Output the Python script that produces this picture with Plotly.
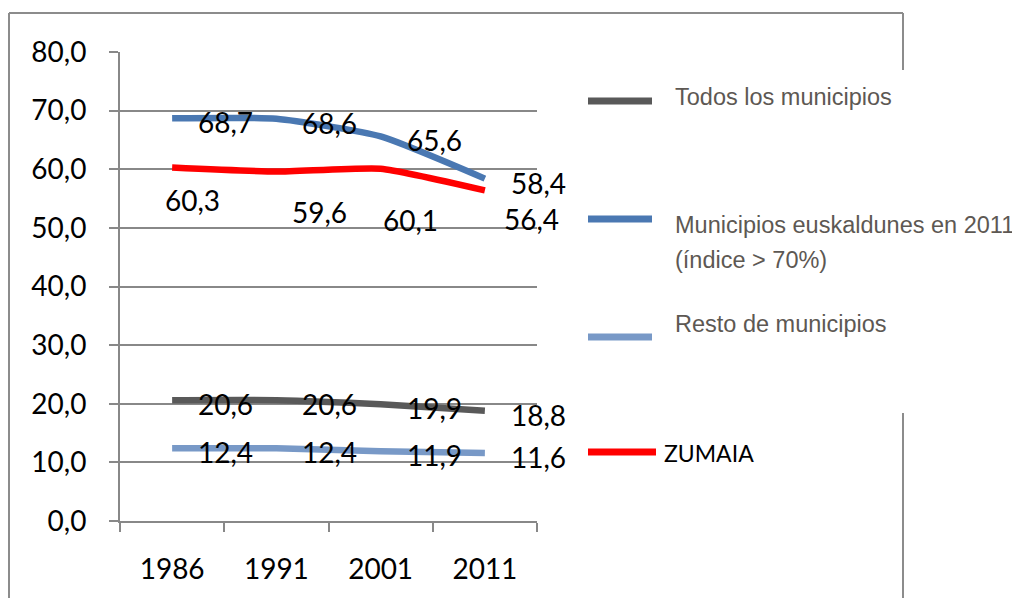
import plotly.graph_objects as go

# ---------------- data ----------------
years = ["1986", "1991", "2001", "2011"]
todos = [20.6, 20.6, 19.9, 18.8]
euskaldunes = [68.7, 68.6, 65.6, 58.4]
resto = [12.4, 12.4, 11.9, 11.6]
zumaia = [60.3, 59.6, 60.1, 56.4]
y_ticks = [0, 10, 20, 30, 40, 50, 60, 70, 80]

series_names = ["Todos los municipios", "Municipios euskaldunes en 2011", "Resto de municipios", "ZUMAIA"]

# ---------------- styles ----------------
C_GRAY = "#595959"
C_BLUE = "#4a78b2"
C_LBLUE = "#7899c7"
C_RED = "#ff0000"
C_GRID = "#888888"
C_LEGTXT = "#5d5853"
LABEL_FONT = dict(family="Lato", size=28, color="black")

OFF = 8  # page body margin
W, H = 1020 - OFF, 598 - OFF
L, R, T, B = 120 - OFF, 537 - OFF, 52 - OFF, 521 - OFF


def px2x(px):
    return (px - OFF - L) / (R - L)


def py2y(py):
    return (B - (py - OFF)) / (B - T)


fig = go.Figure()
series = [(todos, C_GRAY), (euskaldunes, C_BLUE), (resto, C_LBLUE), (zumaia, C_RED)]
for (vals, col), name in zip(series, series_names):
    fig.add_trace(go.Scatter(
        x=years, y=vals, mode="lines", name=name,
        line=dict(color=col, width=6.5, shape="spline", smoothing=0.5),
        showlegend=False, hoverinfo="skip"))


def fmt(v):
    return f"{v:.1f}".replace(".", ",")


annotations = []
# labels to the right of points
for vals in (todos, euskaldunes, resto):
    for i, v in enumerate(vals):
        annotations.append(dict(
            x=i, y=v, xref="x", yref="y", text=fmt(v), showarrow=False,
            xanchor="left", yanchor="middle", xshift=24, yshift=-4, font=LABEL_FONT))
# ZUMAIA labels placed below
red_shifts = [(20, -33), (43, -40), (30, -51), (47, -29)]
for i, (v, (dx, dy)) in enumerate(zip(zumaia, red_shifts)):
    annotations.append(dict(
        x=i, y=v, xref="x", yref="y", text=fmt(v), showarrow=False,
        xanchor="center", yanchor="middle", xshift=dx, yshift=dy, font=LABEL_FONT))

# custom legend
leg_font = dict(family="Liberation Sans, Arial", size=23.5, color=C_LEGTXT)
legend_items = [
    (C_GRAY, 101, 652),
    (C_BLUE, 219, 652),
    (C_LBLUE, 337, 652),
    (C_RED, 452, 656),
]
shapes = []
for col, ly, x1 in legend_items:
    shapes.append(dict(type="line", xref="paper", yref="paper",
                       x0=px2x(588), x1=px2x(x1), y0=py2y(ly), y1=py2y(ly),
                       line=dict(color=col, width=7)))

legend_texts = [
    (series_names[0], 673, 97, leg_font),
    (series_names[1], 673, 225, leg_font),
    ("(índice > 70%)", 673, 260, leg_font),
    (series_names[2], 673, 324, leg_font),
    (series_names[3], 662, 453, dict(family="Lato", size=23, color="black")),
]
for txt, lx, ly, f in legend_texts:
    annotations.append(dict(x=px2x(lx), y=py2y(ly), xref="paper", yref="paper",
                            text=txt, showarrow=False, xanchor="left", yanchor="middle",
                            font=f))

# outer border (partial)
BORDER = dict(color="#8c8c8c", width=2)
for x0, y0, x1, y1 in [(9, 13, 9, 600), (9, 13, 903, 13), (903, 13, 903, 70), (903, 413, 903, 600)]:
    shapes.append(dict(type="line", xref="paper", yref="paper",
                       x0=px2x(x0), x1=px2x(x1), y0=py2y(y0), y1=py2y(y1), line=BORDER))

fig.update_layout(
    width=W, height=H,
    margin=dict(l=L, r=W - R, t=T, b=H - B, pad=0),
    paper_bgcolor="white", plot_bgcolor="white",
    separators=",.",
    showlegend=False,
    annotations=annotations,
    shapes=shapes,
    xaxis=dict(type="category", range=[-0.5, 3.5], tickson="boundaries",
               ticks="outside", ticklen=9, tickwidth=2, tickcolor=C_GRID,
               showline=True, linecolor=C_GRID, linewidth=2, showgrid=False,
               tickfont=dict(family="Lato", size=28, color="black"),
               ticklabelstandoff=22),
    yaxis=dict(range=[0, 80], tickvals=y_ticks, tickformat=".1f",
               showgrid=True, gridcolor=C_GRID, gridwidth=2,
               ticks="outside", ticklen=9, tickwidth=2, tickcolor=C_GRID,
               showline=True, linecolor=C_GRID, linewidth=2, zeroline=False,
               tickfont=dict(family="Lato", size=28, color="black"),
               ticklabelstandoff=17),
)

fig.write_html("out.html")
